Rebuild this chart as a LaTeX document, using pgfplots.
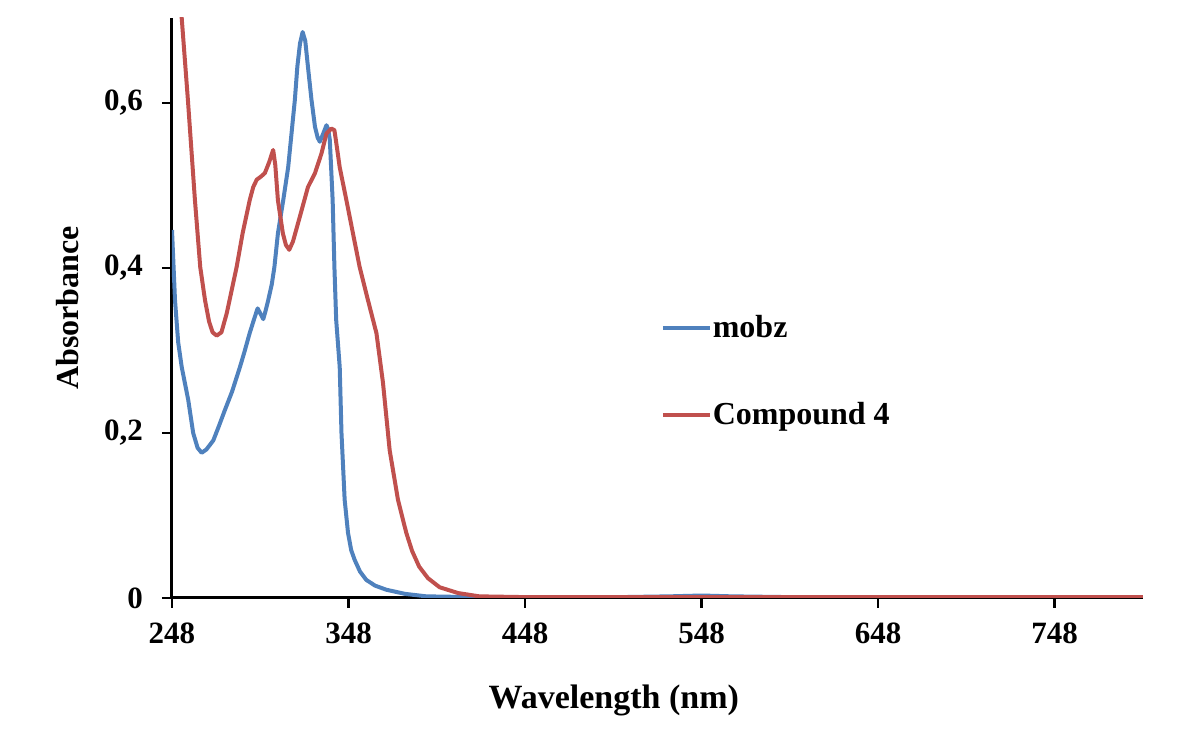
\documentclass[border=0pt]{standalone}
\usepackage{pgfplots}
\pgfplotsset{compat=1.18}
\usepackage{fontspec}
\setmainfont{Liberation Serif}
\definecolor{cblue}{RGB}{79,129,189}
\definecolor{cred}{RGB}{192,80,77}
\begin{document}
\begin{tikzpicture}
\path[use as bounding box] (-86pt,-66.5pt) rectangle (509pt,299pt);
\begin{axis}[
  scale only axis,
  width=485.5pt, height=290pt,
  xmin=248, xmax=798, ymin=0, ymax=0.703,
  axis x line*=bottom, axis y line*=left,
  axis line style={line width=1.5pt},
  every tick/.style={black, line width=1.3pt},
  tick align=outside, major tick length=5pt,
  xtick={248,348,448,548,648,748},
  xticklabels={248,348,448,548,648,748},
  ytick={0,0.2,0.4,0.6},
  yticklabels={0,{0,2},{0,4},{0,6}},
  ticklabel style={font=\fontsize{15.5}{18}\selectfont\bfseries},
  xticklabel style={yshift=-4pt},
  yticklabel style={xshift=-6pt},
  xlabel={Wavelength (nm)}, ylabel={Absorbance},
  xlabel style={font=\fontsize{17}{20}\selectfont\bfseries, at={(axis description cs:0.455,-0.176)}, anchor=center},
  ylabel style={font=\fontsize{16}{19}\selectfont\bfseries, at={(axis description cs:-0.108,0.5)}, anchor=center},
  clip=true,
  legend cell align=left,
  legend style={draw=none, fill=none, at={(axis description cs:0.503,0.391)}, anchor=west,
    font=\fontsize{16}{19}\selectfont\bfseries, inner sep=0pt, row sep=30pt,
    nodes={inner sep=0.5pt}},
  legend image code/.code={\draw[#1] (0pt,0pt) -- (23.5pt,0pt);},
]
\addplot[cblue, line width=2pt, line join=round] coordinates {
(248,0.446) (249.7,0.361) (251.5,0.31) (253.5,0.28) (257.2,0.24) (260,0.2)
(262.5,0.182) (264.8,0.176) (267.5,0.18) (271.4,0.191) (274.5,0.208) (278,0.228)
(282,0.25) (286.5,0.28) (289,0.298) (292,0.321) (294.5,0.338) (296.5,0.351)
(298,0.345) (299.7,0.338) (301,0.348) (302.5,0.361) (304.5,0.38) (306,0.401)
(308,0.442) (311,0.482) (313.8,0.522) (315.7,0.563) (317.6,0.604) (319,0.644)
(320.5,0.672) (322,0.686) (323.5,0.675) (325,0.644) (327,0.604) (329,0.571)
(330.5,0.558) (331.7,0.553) (333.5,0.562) (335.5,0.573) (336.5,0.568) (337.4,0.555)
(339,0.482) (340,0.401) (341,0.337) (343,0.28) (344,0.2) (345.8,0.119)
(347.7,0.079) (349.5,0.058) (351.5,0.046) (354.5,0.032) (358,0.022) (363,0.015)
(369.4,0.01) (380,0.005) (392,0.002) (420,0.001) (500,0.001) (530,0.002)
(548,0.003) (565,0.002) (600,0.001) (700,0.001) (798,0.001)
};
\addlegendentry{mobz}
\addplot[cred, line width=2pt, line join=round] coordinates {
(248,0.86) (250,0.80) (253.5,0.703) (257,0.604) (261,0.482) (264,0.401)
(266.7,0.361) (269,0.335) (271,0.322) (273.3,0.318) (276,0.322) (279,0.345)
(282,0.375) (284.6,0.401) (288,0.442) (292,0.482) (294,0.498) (296,0.507)
(298.5,0.511) (300.6,0.515) (303,0.528) (305.3,0.543) (306.5,0.525) (308,0.482)
(310.8,0.442) (312.5,0.428) (314.4,0.422) (316.5,0.432) (320.4,0.462) (325,0.498)
(329,0.515) (332.7,0.539) (335.5,0.563) (338.3,0.569) (340,0.567) (341.5,0.545)
(343,0.522) (346.8,0.482) (350.5,0.442) (354.3,0.401) (359,0.361) (363.8,0.321)
(367.5,0.261) (371.3,0.179) (376,0.119) (380.7,0.079) (384,0.057) (388,0.038)
(393,0.024) (399.6,0.013) (410,0.006) (422,0.002) (450,0.001) (798,0.001)
};
\addlegendentry{Compound 4}
\end{axis}
\end{tikzpicture}
\end{document}
